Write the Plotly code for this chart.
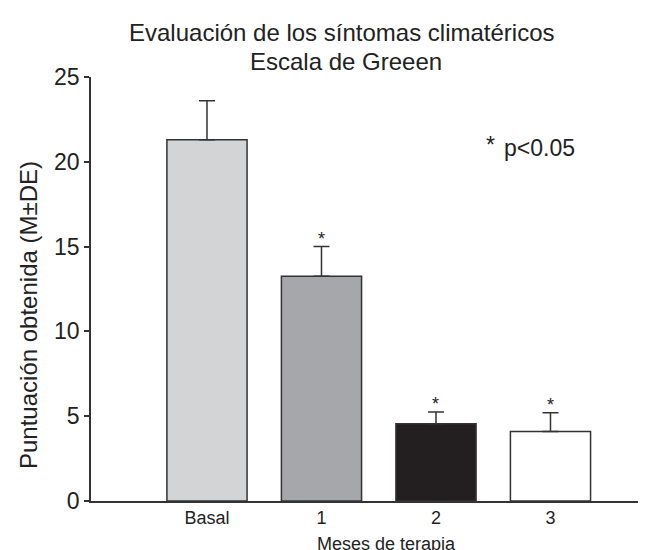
import plotly.graph_objects as go

categories = ["Basal", "1", "2", "3"]
means = [21.3, 13.25, 4.55, 4.1]
sds = [2.3, 1.75, 0.7, 1.1]
significant = [False, True, True, True]
bar_colors = ["#d3d4d6", "#a6a7aa", "#231f20", "#ffffff"]
yticks = [0, 5, 10, 15, 20, 25]

W, H = 646, 550
L, R, T, B = 83, 0, 69, 57
pw, ph = W - L - R, H - T - B

def px_x(p):
    return (p - L) / pw

def px_y(p):
    return (H - B - p) / ph

FONT = "Liberation Sans, Arial, sans-serif"
TXT = "#222222"

fig = go.Figure()
fig.add_trace(go.Bar(
    x=categories, y=means,
    marker=dict(color=bar_colors, line=dict(color="#333333", width=1.5)),
    error_y=dict(type="data", array=sds, arrayminus=[0] * len(sds), symmetric=False,
                 color="#333333", thickness=1.5, width=8),
    showlegend=False,
))

annotations = []
for c, m, s, sig in zip(categories, means, sds, significant):
    if sig:
        annotations.append(dict(x=c, y=m + s, xref="x", yref="y", text="*", showarrow=False,
                                yanchor="bottom", yshift=-4, font=dict(size=18, color=TXT)))

annotations += [
    dict(x=px_x(334), y=px_y(25), xref="paper", yref="paper",
         text="Evaluación de los síntomas climatéricos",
         showarrow=False, xanchor="center", yanchor="middle",
         font=dict(size=24, color=TXT, family=FONT)),
    dict(x=px_x(338), y=px_y(53), xref="paper", yref="paper",
         text="Escala de Greeen",
         showarrow=False, xanchor="center", yanchor="middle",
         font=dict(size=24, color=TXT, family=FONT)),
    dict(x=px_x(476), y=px_y(137), xref="paper", yref="paper", text="*",
         showarrow=False, xanchor="left", yanchor="middle",
         font=dict(size=23, color=TXT, family=FONT)),
    dict(x=px_x(494), y=px_y(140), xref="paper", yref="paper", text="p<0.05",
         showarrow=False, xanchor="left", yanchor="middle",
         font=dict(size=23, color=TXT, family=FONT)),
    dict(x=px_x(378), y=px_y(536), xref="paper", yref="paper", text="Meses de terapia",
         showarrow=False, xanchor="center", yanchor="middle",
         font=dict(size=18, color=TXT, family=FONT)),
    dict(x=px_x(20), y=px_y(307), xref="paper", yref="paper", text="Puntuación obtenida (M±DE)",
         showarrow=False, xanchor="center", yanchor="middle", textangle=-90,
         font=dict(size=24, color=TXT, family=FONT)),
]

fig.update_layout(
    width=W, height=H,
    margin=dict(l=L, r=R, t=T, b=B, pad=0),
    plot_bgcolor="white", paper_bgcolor="white",
    bargap=0.3,
    font=dict(family=FONT, color=TXT),
    annotations=annotations,
    xaxis=dict(range=[-1.013, 3.904], showgrid=False, zeroline=False,
               showline=True, linecolor="#333", linewidth=1.5, ticks="",
               tickfont=dict(size=18), fixedrange=True),
    yaxis=dict(range=[0, 25], tickvals=yticks, showgrid=False, zeroline=False,
               showline=True, linecolor="#333", linewidth=1.5, ticks="outside",
               ticklen=5, tickcolor="#333", tickwidth=1.5, tickfont=dict(size=23)),
)

fig.write_html("out.html")
